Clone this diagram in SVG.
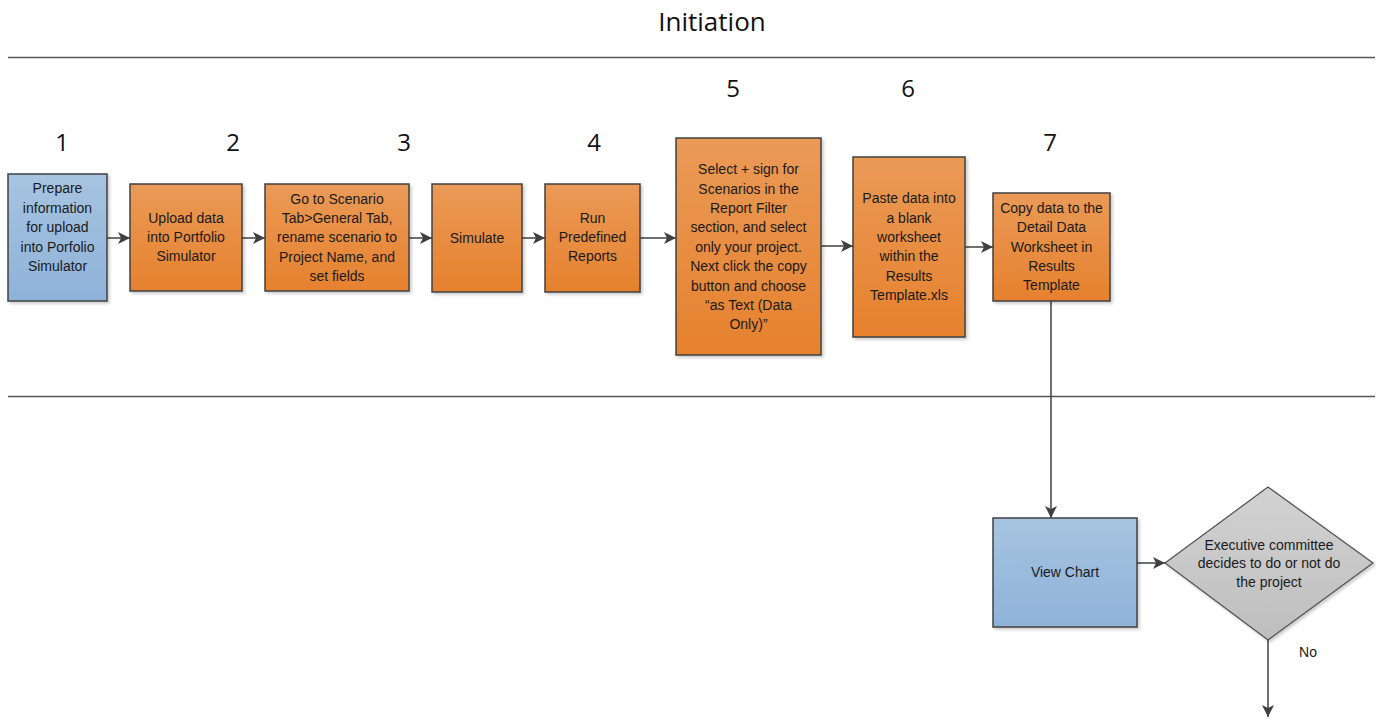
<svg xmlns="http://www.w3.org/2000/svg" width="1380" height="719" viewBox="0 0 1380 719">
<defs>
<linearGradient id="og" x1="0" y1="0" x2="0" y2="1"><stop offset="0" stop-color="#EA9A57"/><stop offset="1" stop-color="#E6812E"/></linearGradient>
<linearGradient id="bg" x1="0" y1="0" x2="0" y2="1"><stop offset="0" stop-color="#A7C4E1"/><stop offset="1" stop-color="#8EB2D8"/></linearGradient>
<linearGradient id="gg" x1="0" y1="0" x2="0" y2="1"><stop offset="0" stop-color="#D2D2D2"/><stop offset="1" stop-color="#BEBEBE"/></linearGradient>
<marker id="ah" viewBox="0 0 12 12" refX="12" refY="6" markerWidth="12" markerHeight="12" markerUnits="userSpaceOnUse" orient="auto"><path d="M0,0 L12,6 L0,12 L3,6 Z" fill="#404040"/></marker>
<filter id="sh" x="-10%" y="-10%" width="130%" height="130%"><feDropShadow dx="2" dy="2" stdDeviation="1.5" flood-color="#000" flood-opacity="0.2"/></filter>
</defs>
<style>
.o{fill:url(#og);stroke:#404040;stroke-width:1.5;filter:url(#sh)}
.b{fill:url(#bg);stroke:#404040;stroke-width:1.5;filter:url(#sh)}
.d{fill:url(#gg);stroke:#505050;stroke-width:1.2;filter:url(#sh)}
.t{font-family:"Liberation Sans",Arial,sans-serif;font-size:14px;fill:#1a1a1a;text-anchor:middle}
.n{font-family:"Open Sans","Liberation Sans",sans-serif;font-size:24px;fill:#111;text-anchor:middle}
.c{stroke:#404040;stroke-width:1.5;fill:none;marker-end:url(#ah)}
.l{stroke:#555;stroke-width:1.5}
</style>
<rect width="1380" height="719" fill="#fff"/>
<text x="712" y="31" font-family="Open Sans, Liberation Sans, sans-serif" font-size="26" fill="#111" text-anchor="middle">Initiation</text>
<line class="l" x1="8" y1="57.5" x2="1375" y2="57.5"/>
<line class="l" x1="8" y1="396.5" x2="1375" y2="396.5"/>
<g id="numbers">
<text class="n" x="62" y="151">1</text>
<text class="n" x="233" y="151">2</text>
<text class="n" x="404" y="151">3</text>
<text class="n" x="594" y="151">4</text>
<text class="n" x="733" y="97">5</text>
<text class="n" x="908" y="97">6</text>
<text class="n" x="1050" y="151">7</text>
</g>
<g id="connectors">
<line class="c" x1="107" y1="238" x2="130" y2="238"/>
<line class="c" x1="242" y1="238" x2="265" y2="238"/>
<line class="c" x1="409" y1="238" x2="432" y2="238"/>
<line class="c" x1="522" y1="238" x2="545" y2="238"/>
<line class="c" x1="640" y1="238" x2="676" y2="238"/>
<line class="c" x1="821" y1="246" x2="853" y2="246"/>
<line class="c" x1="965" y1="247" x2="993" y2="247"/>
<line class="c" x1="1051" y1="301" x2="1051" y2="518"/>
<line class="c" x1="1137" y1="563" x2="1165" y2="563"/>
<line class="c" x1="1268" y1="640" x2="1268" y2="717"/>
<text class="t" x="1308" y="657">No</text>
</g>
<g id="n1"><rect class="b" x="8" y="174" width="99" height="127"/>
<text class="t"><tspan x="57.5" y="193">Prepare</tspan><tspan x="57.5" y="212.5">information</tspan><tspan x="57.5" y="232">for upload</tspan><tspan x="57.5" y="251.5">into Porfolio</tspan><tspan x="57.5" y="271">Simulator</tspan></text></g>
<g id="n2"><rect class="o" x="130" y="184" width="112" height="107"/>
<text class="t"><tspan x="186" y="223">Upload data</tspan><tspan x="186" y="242">into Portfolio</tspan><tspan x="186" y="261">Simulator</tspan></text></g>
<g id="n3"><rect class="o" x="265" y="184" width="144" height="107"/>
<text class="t"><tspan x="337" y="204">Go to Scenario</tspan><tspan x="337" y="223">Tab&gt;General Tab,</tspan><tspan x="337" y="242">rename scenario to</tspan><tspan x="337" y="262">Project Name, and</tspan><tspan x="337" y="281">set fields</tspan></text></g>
<g id="n4"><rect class="o" x="432" y="184" width="90" height="108"/>
<text class="t" x="477" y="243">Simulate</text></g>
<g id="n5"><rect class="o" x="545" y="184" width="95" height="108"/>
<text class="t"><tspan x="592.5" y="223">Run</tspan><tspan x="592.5" y="242">Predefined</tspan><tspan x="592.5" y="261">Reports</tspan></text></g>
<g id="n6"><rect class="o" x="676" y="138" width="145" height="217"/>
<text class="t"><tspan x="748.5" y="174">Select + sign for</tspan><tspan x="748.5" y="193.5">Scenarios in the</tspan><tspan x="748.5" y="213">Report Filter</tspan><tspan x="748.5" y="232">section, and select</tspan><tspan x="748.5" y="251.5">only your project.</tspan><tspan x="748.5" y="271">Next click the copy</tspan><tspan x="748.5" y="290.5">button and choose</tspan><tspan x="748.5" y="310">“as Text (Data</tspan><tspan x="748.5" y="329">Only)”</tspan></text></g>
<g id="n7"><rect class="o" x="853" y="157" width="112" height="180"/>
<text class="t"><tspan x="909" y="203">Paste data into</tspan><tspan x="909" y="222.5">a blank</tspan><tspan x="909" y="242">worksheet</tspan><tspan x="909" y="261">within the</tspan><tspan x="909" y="280.5">Results</tspan><tspan x="909" y="300">Template.xls</tspan></text></g>
<g id="n8"><rect class="o" x="993" y="193" width="117" height="108"/>
<text class="t"><tspan x="1051.5" y="213">Copy data to the</tspan><tspan x="1051.5" y="232">Detail Data</tspan><tspan x="1051.5" y="251.5">Worksheet in</tspan><tspan x="1051.5" y="271">Results</tspan><tspan x="1051.5" y="290">Template</tspan></text></g>
<g id="n9"><rect class="b" x="993" y="518" width="144" height="109"/>
<text class="t" x="1065" y="577">View Chart</text></g>
<g id="n10"><polygon class="d" points="1268,487 1373,563 1268,640 1165,563"/>
<text class="t"><tspan x="1269" y="550">Executive committee</tspan><tspan x="1269" y="568">decides to do or not do</tspan><tspan x="1269" y="587">the project</tspan></text></g>
</svg>
